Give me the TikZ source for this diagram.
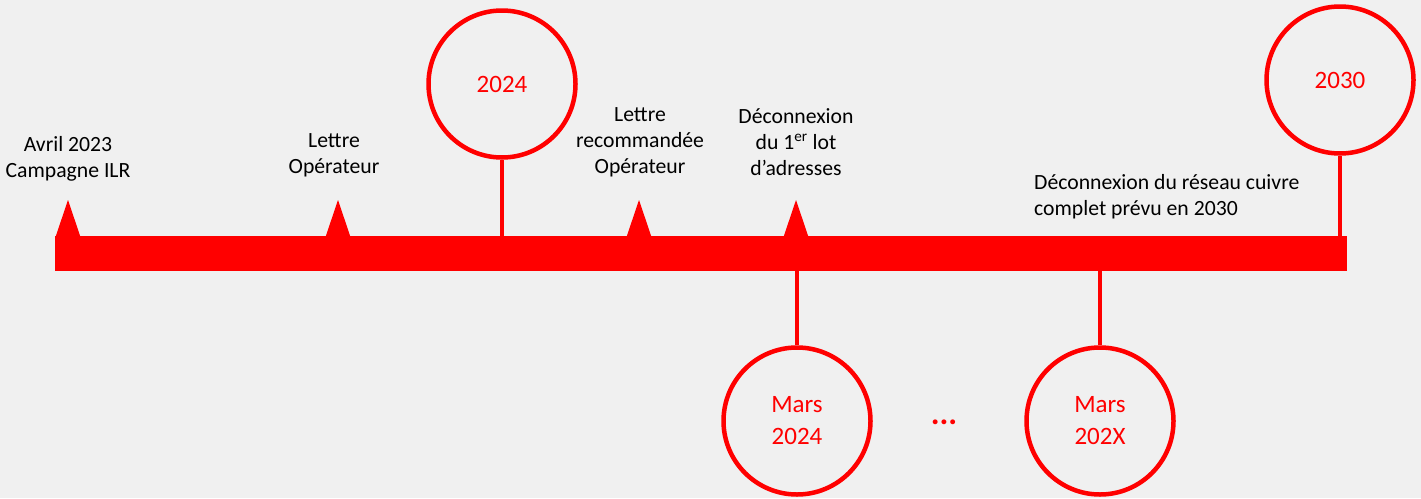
\documentclass[tikz,border=0pt]{standalone}
\usepackage{fontspec}
\setmainfont{Carlito}
\definecolor{fond}{HTML}{F0F0F0}
\definecolor{rouge}{HTML}{FF0000}
\begin{document}
\begin{tikzpicture}[x=1pt,y=-1pt,
    every node/.style={inner sep=0pt},
    lbl/.style={align=center,font=\fontsize{21.7}{26}\selectfont},
    annee/.style={circle,draw=rouge,line width=4.5pt,minimum size=147pt,text=rouge,
        align=center,font=\fontsize{25}{32}\selectfont},
    tige/.style={draw=rouge,line width=4.5pt}]
\fill[fond] (0,0) rectangle (1421,498);
\useasboundingbox (0,0) rectangle (1421,498);
% axe du temps
\node[fill=rouge,minimum width=1292pt,minimum height=35pt] (axe) at (701,253.5) {};
% reperes
\foreach \x/\n in {68/t1,338/t2,639/t3,796/t4} {
    \coordinate (\n) at (\x,237);
    \fill[rouge] (\n) ++(-12.5,0) -- ++(12.5,-37) -- ++(12.5,37) -- cycle;
}
% cercles
\node[annee] (a2024) at (502,84) {2024};
\node[annee] (a2030) at (1340,80) {2030};
\node[annee] (m2024) at (797,421) {Mars\\2024};
\node[annee] (m202x) at (1100,421) {Mars\\202X};
\draw[tige] (a2024.south) -- (a2024.south |- axe.north);
\draw[tige] (a2030.south) -- (a2030.south |- axe.north);
\draw[tige] (m2024.north) -- (m2024.north |- axe.south);
\draw[tige] (m202x.north) -- (m202x.north |- axe.south);
\node[text=rouge,font=\fontsize{33}{33}\selectfont\bfseries,anchor=base] (pts) at (944,424) {...};
% textes
\node[lbl] (avril) at (68,159) {Avril 2023\\Campagne ILR};
\node[lbl] (lettre) at (334,155) {Lettre\\Opérateur};
\node[lbl] (recom) at (640,142) {Lettre\\recommandée\\Opérateur};
\node[lbl] (decon) at (796,142) {Déconnexion\\du 1\textsuperscript{er} lot\\d’adresses};
\node[lbl,align=left,anchor=west] (cuivre) at (1034,196.5) {Déconnexion du réseau cuivre\\complet prévu en 2030};
\end{tikzpicture}
\end{document}
